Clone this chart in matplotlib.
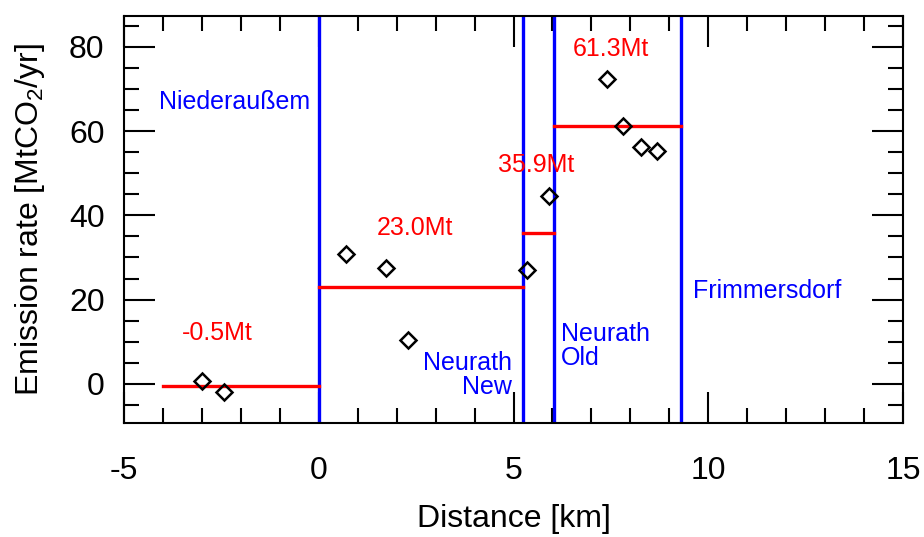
import numpy as np
import matplotlib
matplotlib.use('Agg')
import matplotlib.pyplot as plt
from matplotlib.ticker import MultipleLocator

plt.rcParams['font.family'] = ['Liberation Sans', 'DejaVu Sans']
plt.rcParams['mathtext.default'] = 'regular'
plt.rcParams['axes.unicode_minus'] = False

# measured points (distance km, emission MtCO2/yr)
dist = [-3.0, -2.42, 0.71, 1.72, 2.29, 5.34, 5.92, 7.39, 7.82, 8.27, 8.69]
rate = [0.7, -1.8, 30.8, 27.4, 10.5, 27.0, 44.6, 72.4, 61.3, 56.1, 55.3]

# plant boundaries
bounds = [0.0, 5.24, 6.04, 9.29]

# mean emission per section
seg_start = [-4.0, 0.0, 5.24, 6.04]
seg_end = [0.0, 5.24, 6.04, 9.29]
seg_value = [-0.5, 23.0, 35.9, 61.3]
seg_label = ['-0.5Mt', '23.0Mt', '35.9Mt', '61.3Mt']
seg_label_x = [-2.6, 2.46, 5.58, 7.49]
seg_label_y = [12.1, 37.0, 52.0, 79.4]

plants = ['Niederaußem', 'Neurath\nNew', 'Neurath\nOld', 'Frimmersdorf']
plant_x = [-4.1, 4.97, 6.22, 9.6]
plant_y = [66.9, 2.1, 9.0, 22.0]
plant_ha = ['left', 'right', 'left', 'left']

fig = plt.figure(figsize=(9.24, 5.37), dpi=100)
ax = fig.add_axes([0.1342, 0.2123, 0.8431, 0.7585])

for b in bounds:
    ax.axvline(b, color='#0000ff', lw=2.4, zorder=2)

for s, e, v in zip(seg_start, seg_end, seg_value):
    ax.plot([s, e], [v, v], color='#ff0000', lw=2.4, zorder=3)

ax.plot(dist, rate, 'D', ms=8, mfc='none', mec='black', mew=1.8, zorder=4)

for t, x, y in zip(seg_label, seg_label_x, seg_label_y):
    ax.text(x, y, t, color='#ff0000', fontsize=18, ha='center', va='center')

for t, x, y, ha in zip(plants, plant_x, plant_y, plant_ha):
    ax.text(x, y, t, color='#0000ff', fontsize=18, ha=ha, va='center',
            multialignment=ha, linespacing=1.0)

ax.set_xlim(-5, 15)
ax.set_ylim(-9.25, 87.35)
ax.xaxis.set_major_locator(MultipleLocator(5))
ax.xaxis.set_minor_locator(MultipleLocator(1))
ax.yaxis.set_major_locator(MultipleLocator(20))
ax.yaxis.set_minor_locator(MultipleLocator(5))
ax.tick_params(which='both', direction='in', top=True, right=True, width=1.5)
ax.tick_params(which='major', length=22, labelsize=23)
ax.tick_params(which='minor', length=11)
ax.tick_params(axis='x', pad=24)
ax.tick_params(axis='y', pad=14)
for sp in ax.spines.values():
    sp.set_linewidth(1.5)

ax.set_xlabel('Distance [km]', fontsize=23, labelpad=13)
ax.set_ylabel('Emission rate [MtCO$_2$/yr]', fontsize=23, labelpad=16)

plt.savefig('out.png', dpi=100)
